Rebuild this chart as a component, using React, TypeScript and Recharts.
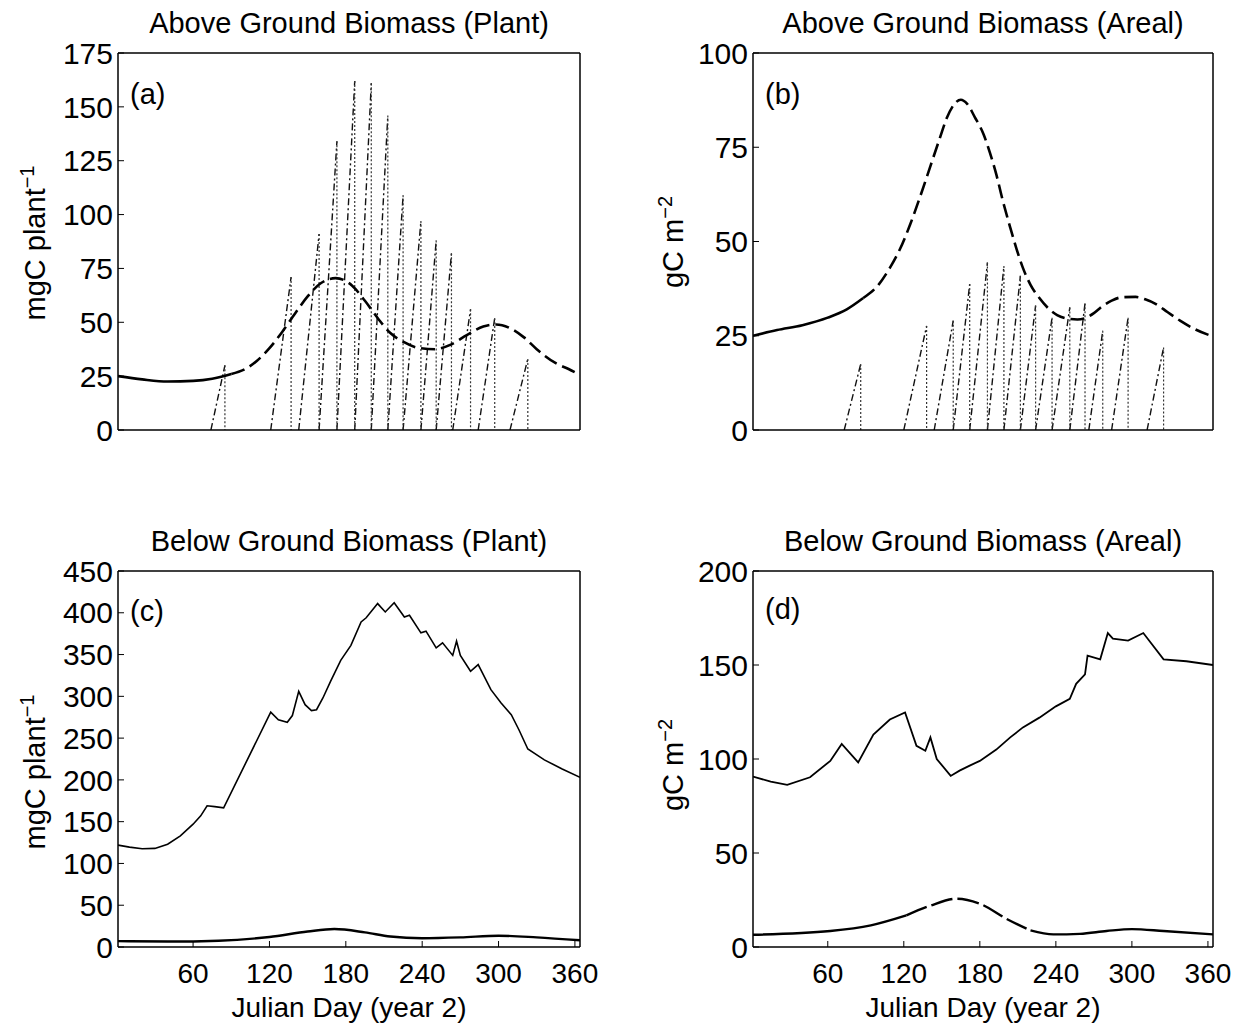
import type { ReactNode } from 'react';
import { LineChart, Line, XAxis, YAxis } from 'recharts';

const FONT = "'Liberation Sans', Arial, Helvetica, sans-serif";

const DAY_TICKS = [60, 120, 180, 240, 300, 360];
const DAY_DOMAIN: [number, number] = [1, 364];

// (a) above ground, per plant
const A_TICKS = [0, 25, 50, 75, 100, 125, 150, 175];
const A_MEAN_DAYS = [1, 20, 40, 60, 75, 90, 100, 110, 120, 130, 140, 150, 160, 172, 185, 195, 205, 215, 225, 238, 250, 262, 275, 288, 298, 310, 320, 330, 345, 355, 364];
const A_MEAN = [25, 23.5, 22.5, 22.8, 23.8, 26, 28, 32, 38, 45.5, 54, 62, 68, 70.5, 67, 60, 52, 45, 41, 38, 37.5, 39.5, 44, 48, 49, 47, 43, 37.5, 31, 28.3, 25.5];
const A_COHORT_START = [74, 121, 143, 159, 173, 187, 200, 213, 225, 239, 251, 264, 284, 309];
const A_COHORT_END = [85, 137, 159, 173, 187, 200, 213, 225, 239, 251, 263, 278, 297, 323];
const A_COHORT_PEAK = [30, 71, 91, 134, 162, 161, 146, 109, 97, 88, 82, 56, 52, 33];

// (b) above ground, areal
const B_TICKS = [0, 25, 50, 75, 100];
const B_MEAN_DAYS = [1, 20, 40, 60, 75, 88, 100, 109, 117, 125, 133, 141, 148, 154, 160, 165, 170, 176, 183, 188, 193, 198, 204, 209, 214, 220, 227, 234, 241, 250, 257, 264, 270, 277, 284, 292, 303, 311, 319, 328, 338, 350, 364];
const B_MEAN = [25, 26.5, 27.8, 29.8, 32, 35, 38.5, 43, 48, 54.5, 62, 70, 77, 82.8, 86.5, 87.6, 86.5, 83, 78.4, 73.5, 67.8, 61, 53.7, 48, 43, 38.5, 35, 32.3, 30.5, 29.5, 29.3, 29.8, 31, 32.9, 34.3, 35.2, 35.3, 34.6, 33.4, 31.3, 29, 26.7, 24.8];
const B_COHORT_START = [73, 120, 144, 159, 172, 186, 199, 212, 224, 237, 251, 266, 284, 312];
const B_COHORT_END = [86, 138, 159, 172, 186, 199, 212, 224, 237, 251, 263, 277, 297, 325];
const B_COHORT_PEAK = [17.5, 27.6, 29, 38.7, 44.4, 43.5, 40.9, 33, 29.8, 32.5, 33.6, 26.3, 29.8, 21.9];

// (c) below ground, per plant
const C_TICKS = [0, 50, 100, 150, 200, 250, 300, 350, 400, 450];
const C_TOTAL_DAYS = [1, 10, 20, 30, 40, 50, 60, 66, 71, 77, 84, 121, 127, 134, 138, 143, 148, 153, 157, 162, 168, 176, 184, 192, 196, 205, 211, 218, 226, 230, 239, 243, 251, 256, 264, 267, 270, 278, 284, 294, 302, 310, 316, 323, 336, 350, 364];
const C_TOTAL = [122, 119.5, 117.5, 118, 123, 133, 147, 157, 169, 168, 166.5, 281, 272, 269, 277, 306, 290, 283, 284, 298, 318, 343, 361, 389, 394, 411, 401, 412, 395, 397, 376, 378, 358, 364, 349, 366, 349, 330, 338, 308, 292, 278, 260, 237, 224, 213, 203];
const C_MEAN_DAYS = [1, 40, 80, 120, 150, 171, 195, 215, 240, 270, 300, 330, 364];
const C_MEAN = [7, 6.5, 7.5, 12, 18.5, 21.5, 17.5, 12.5, 10.5, 11.5, 13.5, 11.5, 8];

// (d) below ground, areal
const D_TICKS = [0, 50, 100, 150, 200];
const D_TOTAL_DAYS = [1, 15, 28, 46, 62, 71, 84, 96, 109, 121, 130, 137, 141, 146, 157, 164, 172, 180, 193, 204, 214, 227, 240, 251, 256, 263, 265, 275, 281, 285, 297, 309, 325, 343, 364];
const D_TOTAL = [90.6, 88, 86.2, 90.3, 99, 108, 98.2, 113, 121, 124.8, 107, 104.4, 111.5, 100, 91, 93.8, 96.5, 99, 105, 111.5, 116.8, 122, 128, 132, 140, 145, 155, 153, 167, 164, 163, 167, 153, 152, 150];
const D_MEAN_DAYS = [1, 62, 94, 122, 141, 162, 180, 201, 220, 238, 259, 280, 300, 325, 364];
const D_MEAN = [6.5, 8.5, 11.5, 16.8, 22, 25.7, 23, 15, 8.8, 6.7, 7, 8.5, 9.5, 8.5, 6.7];

type Pt = { d: number; v: number | null };

const pts = (days: number[], vals: number[]): Pt[] => days.map((d, i) => ({ d, v: vals[i] }));
const between = (p: Pt[], lo: number, hi: number) => p.filter((q) => q.d >= lo && q.d <= hi);

// each cohort grows from zero, then is removed at its peak
const rises = (start: number[], end: number[], peak: number[]): Pt[] =>
  start.flatMap((s, i) => [{ d: s, v: 0 }, { d: end[i], v: peak[i] }, { d: end[i], v: null }]);
const drops = (end: number[], peak: number[]): Pt[] =>
  end.flatMap((e, i) => [{ d: e, v: peak[i] }, { d: e, v: 0 }, { d: e, v: null }]);

const AXIS_LINE = { stroke: '#000', strokeWidth: 1.5 };
const TICK_LINE = { stroke: '#000', strokeWidth: 1 };
const Y_TICK_TEXT = { fontSize: 30, fill: '#000', fontFamily: FONT };
const X_TICK_TEXT = { fontSize: 28, fill: '#000', fontFamily: FONT };

interface PanelProps {
  left: number;
  top: number;
  width: number;
  height: number;
  // plot box, in page pixels
  box: { x0: number; x1: number; y0: number; y1: number };
  yTicks: number[];
  xLabels: boolean;
  children: ReactNode;
}

function Panel({ left, top, width, height, box, yTicks, xLabels, children }: PanelProps) {
  const yDomain: [number, number] = [0, yTicks[yTicks.length - 1]];
  const yWidth = box.x0 - left;
  const bottomH = 30;
  const margin = {
    top: box.y0 - top - 1,
    right: left + width - box.x1 - 1,
    bottom: top + height - box.y1 - bottomH,
    left: 0,
  };
  return (
    <div style={{ position: 'absolute', left, top }}>
      <LineChart width={width} height={height} margin={margin}>
        <XAxis
          dataKey="d"
          type="number"
          domain={DAY_DOMAIN}
          ticks={DAY_TICKS}
          allowDataOverflow
          interval={0}
          height={bottomH}
          axisLine={AXIS_LINE}
          tickLine={TICK_LINE}
          tickSize={-6}
          tickMargin={22}
          tick={xLabels ? X_TICK_TEXT : false}
        />
        <XAxis
          xAxisId="top"
          orientation="top"
          type="number"
          domain={DAY_DOMAIN}
          ticks={DAY_TICKS}
          allowDataOverflow
          interval={0}
          height={1}
          axisLine={AXIS_LINE}
          tickLine={TICK_LINE}
          tickSize={-6}
          tick={false}
        />
        <YAxis
          type="number"
          domain={yDomain}
          ticks={yTicks}
          allowDataOverflow
          interval={0}
          width={yWidth}
          axisLine={AXIS_LINE}
          tickLine={TICK_LINE}
          tickSize={-6}
          tickMargin={11}
          tick={Y_TICK_TEXT}
        />
        <YAxis
          yAxisId="right"
          orientation="right"
          type="number"
          domain={yDomain}
          ticks={yTicks}
          allowDataOverflow
          interval={0}
          width={1}
          axisLine={AXIS_LINE}
          tickLine={TICK_LINE}
          tickSize={-6}
          tick={false}
        />
        {children}
      </LineChart>
    </div>
  );
}

const smooth = (key: string, data: Pt[], width: number, dash?: string) => (
  <Line
    key={key}
    data={data}
    dataKey="v"
    type="monotone"
    stroke="#000"
    strokeWidth={width}
    strokeDasharray={dash}
    dot={false}
    activeDot={false}
    isAnimationActive={false}
  />
);

const cohortLines = (key: string, start: number[], end: number[], peak: number[]) => [
  <Line
    key={key + '-rise'}
    data={rises(start, end, peak)}
    dataKey="v"
    type="linear"
    stroke="#111"
    strokeWidth={1.4}
    strokeDasharray="7 3 2 3"
    dot={false}
    activeDot={false}
    isAnimationActive={false}
  />,
  <Line
    key={key + '-drop'}
    data={drops(end, peak)}
    dataKey="v"
    type="linear"
    stroke="#333"
    strokeWidth={1.2}
    strokeDasharray="2 2"
    dot={false}
    activeDot={false}
    isAnimationActive={false}
  />,
];

function Sup({ text, sup }: { text: string; sup: string }) {
  return (
    <>
      {text}
      <tspan dy={-11} fontSize={20}>
        {sup}
      </tspan>
    </>
  );
}

const TOP_BOX_A = { x0: 118, x1: 580, y0: 53, y1: 430 };
const TOP_BOX_B = { x0: 753, x1: 1213, y0: 53, y1: 430 };
const BOT_BOX_C = { x0: 118, x1: 580, y0: 571, y1: 947 };
const BOT_BOX_D = { x0: 753, x1: 1213, y0: 571, y1: 947 };

export default function App() {
  const aMean = pts(A_MEAN_DAYS, A_MEAN);
  const bMean = pts(B_MEAN_DAYS, B_MEAN);
  const dMean = pts(D_MEAN_DAYS, D_MEAN);

  return (
    <div
      style={{
        position: 'absolute',
        left: 0,
        top: 0,
        width: 1243,
        height: 1024,
        background: '#fff',
        fontFamily: FONT,
      }}
    >
      <Panel left={0} top={0} width={620} height={470} box={TOP_BOX_A} yTicks={A_TICKS} xLabels={false}>
        {cohortLines('a', A_COHORT_START, A_COHORT_END, A_COHORT_PEAK)}
        {smooth('a-solid', between(aMean, 1, 90), 2.6)}
        {smooth('a-dash', between(aMean, 90, 364), 2.6, '14 6')}
      </Panel>

      <Panel left={640} top={0} width={603} height={470} box={TOP_BOX_B} yTicks={B_TICKS} xLabels={false}>
        {cohortLines('b', B_COHORT_START, B_COHORT_END, B_COHORT_PEAK)}
        {smooth('b-solid', between(bMean, 1, 88), 2.6)}
        {smooth('b-dash', between(bMean, 88, 364), 2.6, '14 6')}
      </Panel>

      <Panel left={0} top={520} width={620} height={504} box={BOT_BOX_C} yTicks={C_TICKS} xLabels>
        {[
          <Line
            key="c-total"
            data={pts(C_TOTAL_DAYS, C_TOTAL)}
            dataKey="v"
            type="linear"
            stroke="#000"
            strokeWidth={1.6}
            dot={false}
            activeDot={false}
            isAnimationActive={false}
          />,
          smooth('c-mean', pts(C_MEAN_DAYS, C_MEAN), 2.4),
        ]}
      </Panel>

      <Panel left={640} top={520} width={603} height={504} box={BOT_BOX_D} yTicks={D_TICKS} xLabels>
        {[
          <Line
            key="d-total"
            data={pts(D_TOTAL_DAYS, D_TOTAL)}
            dataKey="v"
            type="linear"
            stroke="#000"
            strokeWidth={1.8}
            dot={false}
            activeDot={false}
            isAnimationActive={false}
          />,
          smooth('d-mean-1', between(dMean, 1, 122), 2.4),
          smooth('d-mean-2', between(dMean, 122, 220), 2.4, '22 5'),
          smooth('d-mean-3', between(dMean, 220, 364), 2.4),
        ]}
      </Panel>

      <svg
        width={1243}
        height={1024}
        style={{ position: 'absolute', left: 0, top: 0, pointerEvents: 'none' }}
        fontFamily={FONT}
        fill="#000"
      >
        <g fontSize={29} textAnchor="middle">
          <text x={349} y={33}>Above Ground Biomass (Plant)</text>
          <text x={983} y={33}>Above Ground Biomass (Areal)</text>
          <text x={349} y={551}>Below Ground Biomass (Plant)</text>
          <text x={983} y={551}>Below Ground Biomass (Areal)</text>
          <text x={45} y={243} transform="rotate(-90 45 243)">
            <Sup text="mgC plant" sup="−1" />
          </text>
          <text x={683} y={242} transform="rotate(-90 683 242)">
            <Sup text="gC m" sup="−2" />
          </text>
          <text x={45} y={772} transform="rotate(-90 45 772)">
            <Sup text="mgC plant" sup="−1" />
          </text>
          <text x={683} y={765} transform="rotate(-90 683 765)">
            <Sup text="gC m" sup="−2" />
          </text>
        </g>
        <g fontSize={28} textAnchor="middle">
          <text x={349} y={1017}>Julian Day (year 2)</text>
          <text x={983} y={1017}>Julian Day (year 2)</text>
        </g>
        <g fontSize={29}>
          <text x={130} y={104}>(a)</text>
          <text x={765} y={104}>(b)</text>
          <text x={130} y={621}>(c)</text>
          <text x={765} y={619}>(d)</text>
        </g>
      </svg>
    </div>
  );
}
